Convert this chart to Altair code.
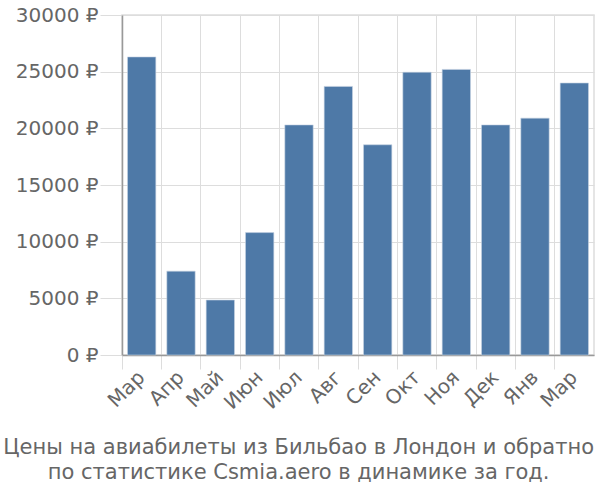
import altair as alt
import pandas as pd

months = ["Мар", "Апр", "Май", "Июн", "Июл", "Авг", "Сен", "Окт", "Ноя", "Дек", "Янв", "Мар "]
prices = [26300, 7400, 4850, 10800, 20300, 23700, 18550, 24950, 25200, 20300, 20900, 24000]
title_lines = ["Цены на авиабилеты из Бильбао в Лондон и обратно",
               "по статистике Csmia.aero в динамике за год."]

df = pd.DataFrame({"month": months, "price": prices})

font = "DejaVu Sans"

chart = alt.Chart(df).mark_bar(
    color="#4e79a7", width={"band": 0.72}, stroke="#c8d4e3", strokeWidth=0.6
).encode(
    x=alt.X("month:N", sort=months, title=None,
            scale=alt.Scale(paddingInner=0, paddingOuter=0),
            axis=alt.Axis(labelAngle=-45, labelAlign="right", labelBaseline="middle",
                          labelFontSize=20, labelColor="#666", labelFont=font,
                          labelPadding=5, bandPosition=0, grid=True, gridColor="#ddd",
                          ticks=True, tickSize=14, tickColor="#ddd",
                          domainColor="#999", domainWidth=1.5, labelExpr="trim(datum.label)")),
    y=alt.Y("price:Q", title=None,
            scale=alt.Scale(domain=[0, 30000], nice=False),
            axis=alt.Axis(values=[0, 5000, 10000, 15000, 20000, 25000, 30000],
                          labelExpr="datum.value + ' ₽'",
                          labelFontSize=20, labelColor="#666", labelFont=font,
                          labelPadding=2, gridColor="#ddd", tickSize=22, tickColor="#ddd",
                          domainColor="#999", domainWidth=1.5)),
).properties(
    width=472, height=340,
    autosize=alt.AutoSizeParams(type="none"),
    title=alt.TitleParams(text=title_lines, orient="bottom", anchor="middle", frame="bounds",
                          font=font, fontSize=21, fontWeight="normal", color="#666",
                          lineHeight=25, offset=24, dx=-6),
    padding={"left": 122, "top": 15, "right": 6, "bottom": 145},
).configure_view(stroke="#ddd", strokeWidth=1.5)

chart.save("out.html", embed_options={"renderer": "svg", "actions": False})
